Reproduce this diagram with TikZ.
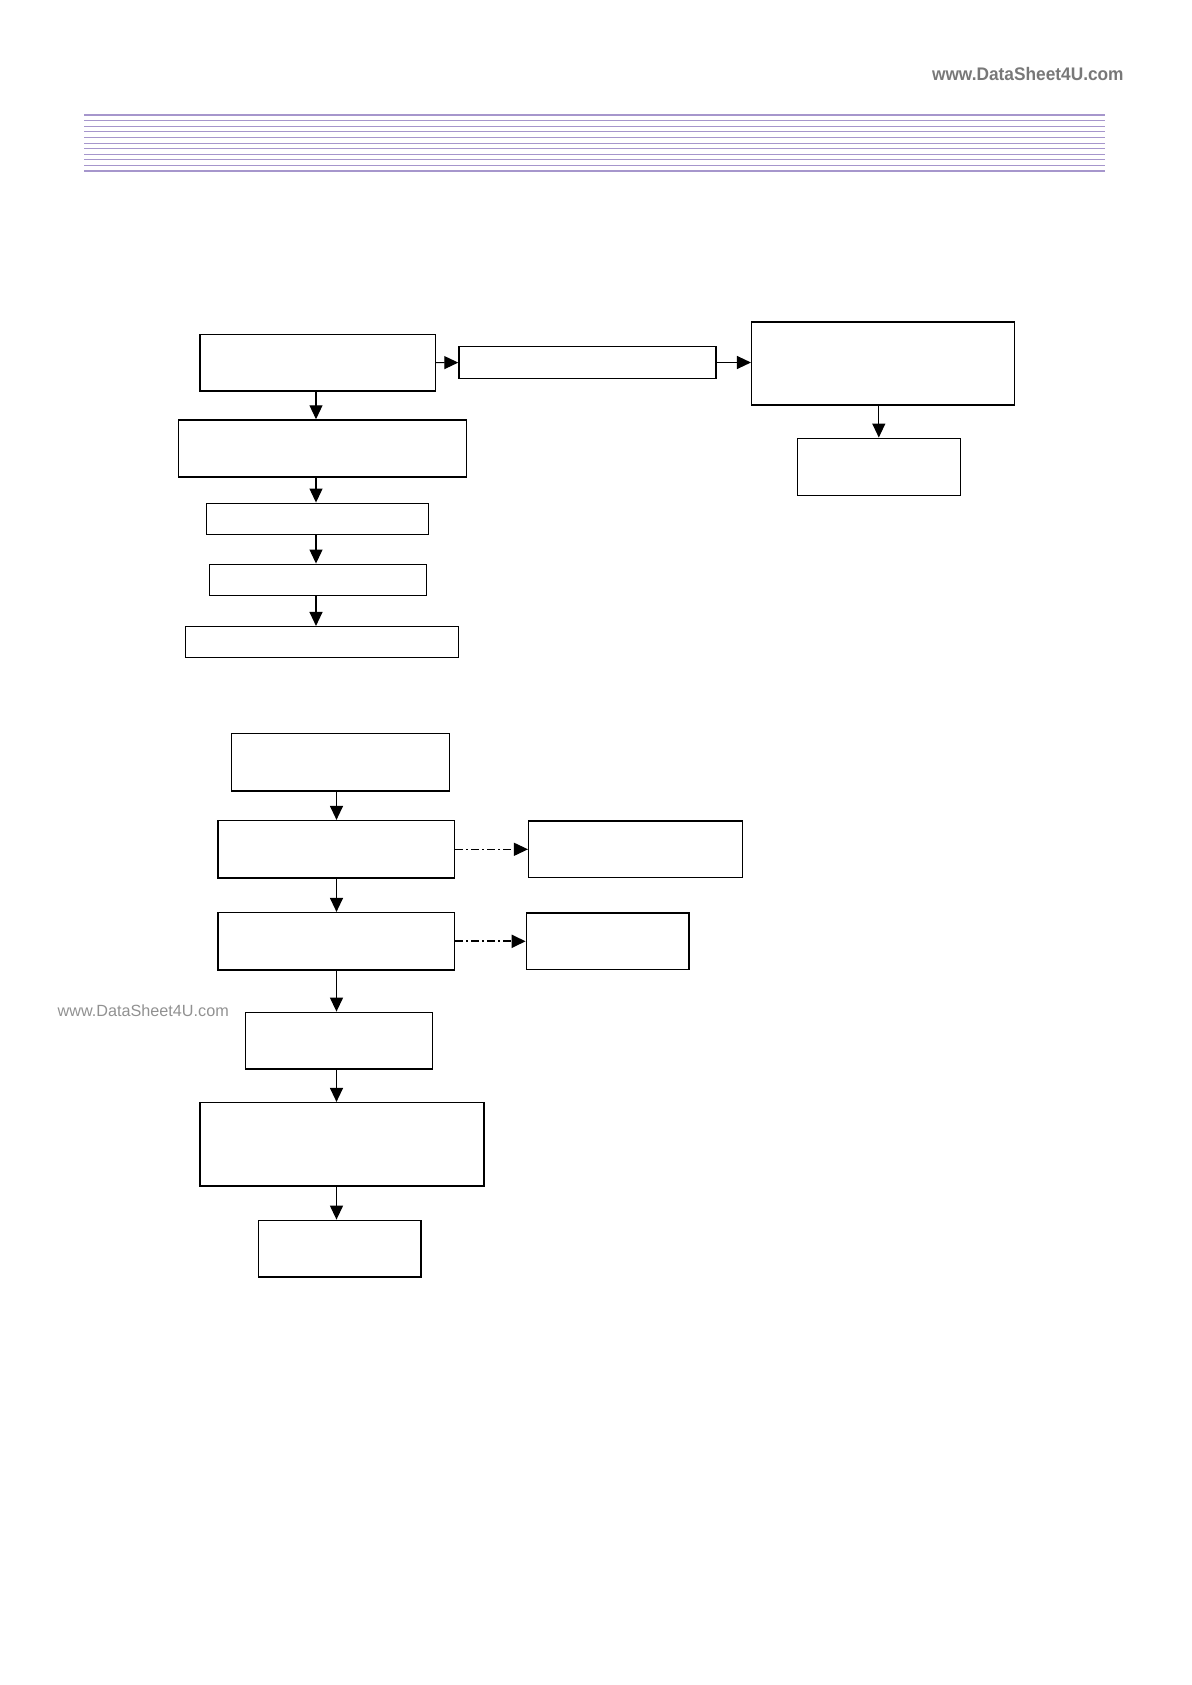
\documentclass[tikz,border=0pt]{standalone}
\usepackage{fontspec}
\usetikzlibrary{arrows.meta}
\newfontfamily\wmfont{Liberation Sans}
\definecolor{rulelav}{RGB}{166,150,204}
\definecolor{wmgray}{RGB}{120,120,120}
\definecolor{wmlight}{RGB}{145,145,145}

\begin{document}
\begin{tikzpicture}[x=0.5pt,y=-0.5pt,
    box/.style 2 args={draw,line width=0.75pt,minimum width=#1*0.5pt,minimum height=#2*0.5pt,inner sep=0pt},
    arr/.style={-{Triangle[length=7pt,width=6.5pt]},line width=0.6pt},
    dd/.style={arr,dash pattern=on 4pt off 1.5pt on 1pt off 1.5pt}]
    \useasboundingbox (0,0) rectangle (1191,1685);
    % header
    \node [anchor=base west,font=\wmfont\bfseries\fontsize{9.1}{11}\selectfont,text=wmgray,xscale=0.95,inner sep=0pt] (wmtop) at (931.7,81) {www.DataSheet4U.com};
    \foreach \k in {0,...,10}
      \draw [rulelav,line width=0.5pt] (84,115.2+5.6*\k) -- (1105,115.2+5.6*\k);
    \draw [rulelav,line width=1pt] (84,115.2) -- (1105,115.2);
    \draw [rulelav,line width=1pt] (84,171.2) -- (1105,171.2);
    \node [anchor=base west,font=\wmfont\fontsize{8.1}{10}\selectfont,text=wmlight,inner sep=0pt] (wmleft) at (57.3,1016.7) {www.DataSheet4U.com};
    \coordinate (colT) at (316,0);
    \coordinate (colB) at (336.5,0);
    % upper flow
    \node [box={235.5}{56.7}] (B1) at (317.7,362.7) {};
    \node [box={257}{31.6}] (B2) at (587.5,362.5) {};
    \node [box={262.6}{83}] (B3) at (883,363.5) {};
    \node [box={163}{57}] (B8) at (878.8,466.8) {};
    \node [box={288}{57}] (B4) at (322.5,448.5) {};
    \node [box={222}{31}] (B5) at (317.3,518.8) {};
    \node [box={217.4}{31}] (B6) at (318,579.8) {};
    \node [box={273}{31}] (B7) at (321.8,642.2) {};
    \draw [arr] (B1) -- (B2);
    \draw [arr] (B2.east) -- (B2.east -| B3.west);
    \draw [arr] (B3.south -| B8) -- (B8.north);
    \draw [arr] (B1.south -| colT) -- (B4.north -| colT);
    \draw [arr] (B4.south -| colT) -- (B5.north -| colT);
    \draw [arr] (B5.south -| colT) -- (B6.north -| colT);
    \draw [arr] (B6.south -| colT) -- (B7.north -| colT);
    % lower flow
    \node [box={217.6}{57.7}] (C1) at (340.5,762.2) {};
    \node [box={236.5}{57.3}] (C2) at (336.3,849.3) {};
    \node [box={213.6}{56.7}] (D1) at (635.5,849.3) {};
    \node [box={236.5}{57.3}] (C3) at (336.3,941.3) {};
    \node [box={162.7}{56.7}] (D2) at (607.7,941.3) {};
    \node [box={187}{56.7}] (C4) at (338.8,1040.7) {};
    \node [box={284}{83.3}] (C5) at (342,1144.3) {};
    \node [box={162.7}{56.7}] (C6) at (339.7,1248.7) {};
    \draw [arr] (C1.south -| colB) -- (C2.north -| colB);
    \draw [arr] (C2.south -| colB) -- (C3.north -| colB);
    \draw [arr] (C3.south -| colB) -- (C4.north -| colB);
    \draw [arr] (C4.south -| colB) -- (C5.north -| colB);
    \draw [arr] (C5.south -| colB) -- (C6.north -| colB);
    \draw [dd] (C2) -- (D1);
    \draw [dd,line width=1pt] (C3) -- (D2);
  \end{tikzpicture}
\end{document}
